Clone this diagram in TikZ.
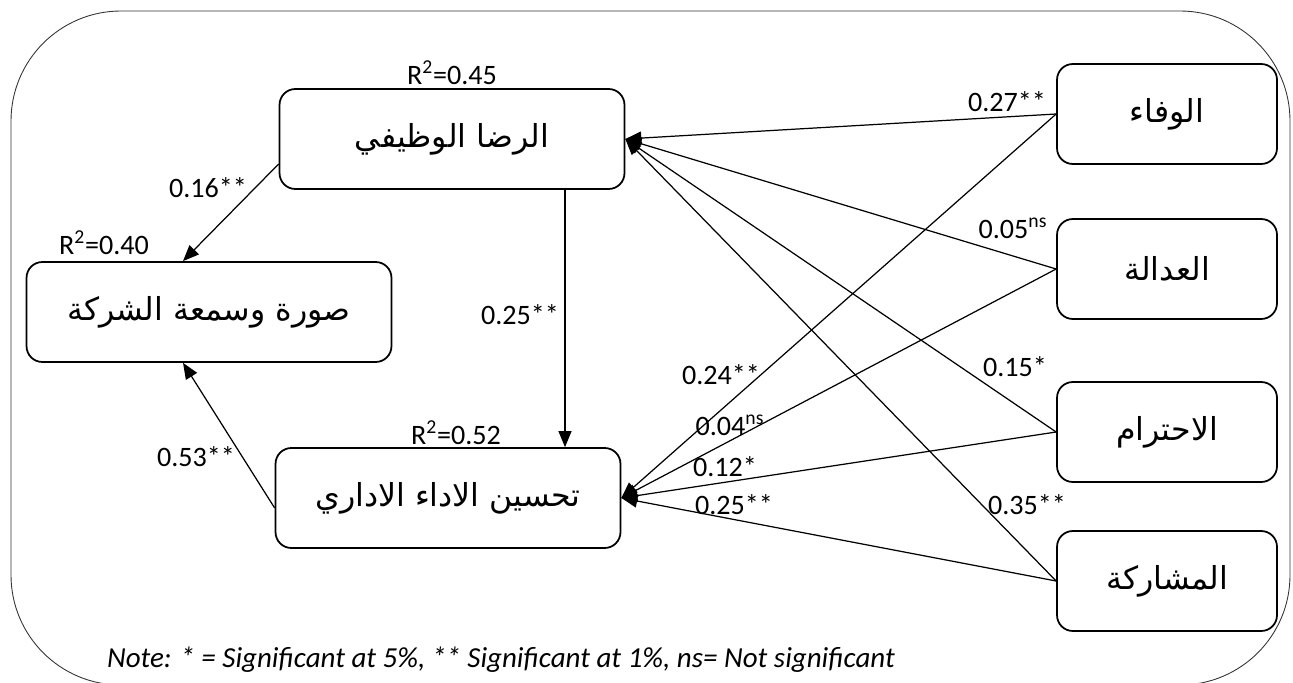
\documentclass[tikz,border=0pt]{standalone}
\usepackage{fontspec}
\setmainfont{Carlito}
\newfontfamily\arabicfont[Script=Arabic]{DejaVu Sans}
\TeXXeTstate=1
\usepackage{tikz}
\usetikzlibrary{arrows.meta,positioning}

\begin{document}
\begin{tikzpicture}[
    x=0.02cm, y=-0.02cm,
    font=\fontsize{16}{18}\selectfont,
    box/.style={draw, rounded corners=9pt, line width=1pt, align=center, font=\arabicfont\fontsize{18}{21}\selectfont},
    inner/.style={box, minimum width=6.9cm, minimum height=2cm},
    outer/.style={box, minimum width=4.4cm, minimum height=2cm},
    coef/.style={inner sep=1pt},
    arrow/.style={-{Triangle[length=3.2mm, width=2.6mm]}, line width=0.7pt}
]

\useasboundingbox (0,0) rectangle (1293,682);
\draw[line width=0.5pt, gray!40!black, rounded corners=2.2cm] (11,11) rectangle (1290,685);

\node[inner] (satisf) at (452,139) {\beginR الرضا الوظيفي\endR};
\node[box, minimum width=7.3cm, minimum height=2cm] (image) at (209,312) {\beginR صورة وسمعة الشركة\endR};
\node[inner] (perf) at (448,498) {\beginR تحسين الاداء الاداري\endR};

\node[outer] (loyal) at (1167,114) {\beginR الوفاء\endR};
\node[outer] (justice) at (1167,269) {\beginR العدالة\endR};
\node[outer] (respect) at (1167,432) {\beginR الاحترام\endR};
\node[outer] (share) at (1167,581) {\beginR المشاركة\endR};

\draw[arrow] ([yshift=-0.5cm]satisf.west) -- (image.north -| 183,0);
\draw[arrow] (satisf.south -| 565,0) -- (perf.north -| 565,0);
\draw[arrow] ([yshift=-0.2cm]perf.west) -- (image.south -| 183,0);

\foreach \src in {loyal,justice,respect,share}{
  \draw[arrow] (\src.west) -- (satisf.east);
  \draw[arrow] (\src.west) -- (perf.east);
}

% R squared
\node[coef] (r45) at (452,73) {R\textsuperscript{2}=0.45};
\node[coef] (r40) at (104,243) {R\textsuperscript{2}=0.40};
\node[coef] (r52) at (456,433) {R\textsuperscript{2}=0.52};

% path coefficients
\node[coef] (c16) at (208,188) {0.16**};
\node[coef] (c25a) at (520,315) {0.25**};
\node[coef] (c53) at (196,457) {0.53**};
\node[coef] (c27) at (1007,102) {0.27**};
\node[coef] (c05) at (1013,228) {0.05\textsuperscript{ns}};
\node[coef] (c15) at (1015,367) {0.15*};
\node[coef] (c24) at (721,375) {0.24**};
\node[coef] (c04) at (730,425) {0.04\textsuperscript{ns}};
\node[coef] (c12) at (725,467) {0.12*};
\node[coef] (c25b) at (734,505) {0.25**};
\node[coef] (c35) at (1027,505) {0.35**};

\node[coef, font=\itshape\fontsize{16.5}{18}\selectfont] (note) at (501,660) {Note: * = Significant at 5\%, ** Significant at 1\%, ns= Not significant};

\end{tikzpicture}
\end{document}
